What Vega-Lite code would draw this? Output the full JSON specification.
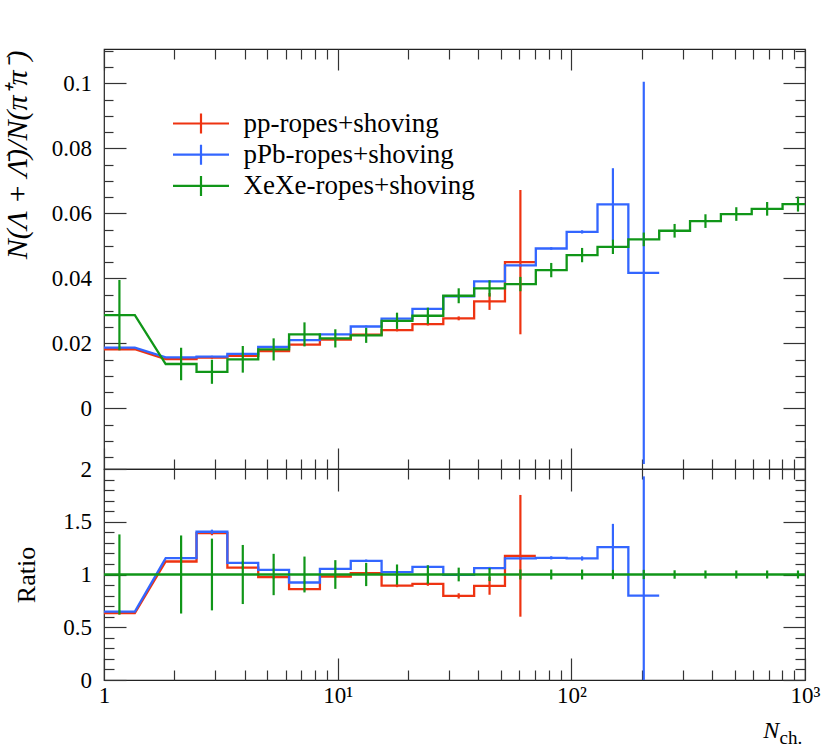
{
  "$schema": "https://vega.github.io/schema/vega-lite/v6.json",
  "padding": {"left": 1, "top": 39, "right": 0, "bottom": 0},
  "spacing": 0,
  "bounds": "flush",
  "config": {
    "font": "Liberation Serif",
    "view": {"stroke": "#222", "strokeWidth": 1.2},
    "axis": {"domain": false, "grid": false, "tickColor": "#333", "tickWidth": 1.2, "labelFont": "Liberation Serif", "labelFontSize": 23, "labelColor": "#000", "titleFont": "Liberation Serif", "titleColor": "#000", "titleFontWeight": "normal", "labelOverlap": false, "labelFlush": false, "labelBound": false}
  },
  "datasets": {
    "d": [
      {"s": "pp-ropes+shoving", "b": 1, "x1": 1, "x2": 1.3552, "xc": 1.164, "y": 0.0182, "ylo": 0.0179, "yhi": 0.0185, "r": 0.633, "rlo": 0.623, "rhi": 0.643},
      {"s": "pp-ropes+shoving", "b": 2, "x1": 1.8365, "x2": 2.4889, "xc": 2.138, "y": 0.0152, "ylo": 0.0149, "yhi": 0.0155, "r": 1.123, "rlo": 1.108, "rhi": 1.138},
      {"s": "pp-ropes+shoving", "b": 3, "x1": 2.4889, "x2": 3.3729, "xc": 2.897, "y": 0.0156, "ylo": 0.0153, "yhi": 0.0159, "r": 1.392, "rlo": 1.372, "rhi": 1.412},
      {"s": "pp-ropes+shoving", "b": 4, "x1": 3.3729, "x2": 4.5709, "xc": 3.926, "y": 0.0162, "ylo": 0.0159, "yhi": 0.0165, "r": 1.066, "rlo": 1.051, "rhi": 1.081},
      {"s": "pp-ropes+shoving", "b": 5, "x1": 4.5709, "x2": 6.1944, "xc": 5.321, "y": 0.0176, "ylo": 0.0173, "yhi": 0.0179, "r": 0.975, "rlo": 0.963, "rhi": 0.987},
      {"s": "pp-ropes+shoving", "b": 6, "x1": 6.1944, "x2": 8.3946, "xc": 7.211, "y": 0.0196, "ylo": 0.0193, "yhi": 0.0199, "r": 0.861, "rlo": 0.849, "rhi": 0.873},
      {"s": "pp-ropes+shoving", "b": 7, "x1": 8.3946, "x2": 11.376, "xc": 9.772, "y": 0.0212, "ylo": 0.0209, "yhi": 0.0215, "r": 0.981, "rlo": 0.969, "rhi": 0.993},
      {"s": "pp-ropes+shoving", "b": 8, "x1": 11.376, "x2": 15.417, "xc": 13.243, "y": 0.0227, "ylo": 0.0224, "yhi": 0.023, "r": 1.013, "rlo": 1.001, "rhi": 1.025},
      {"s": "pp-ropes+shoving", "b": 9, "x1": 15.417, "x2": 20.893, "xc": 17.947, "y": 0.0241, "ylo": 0.0237, "yhi": 0.0245, "r": 0.895, "rlo": 0.88, "rhi": 0.91},
      {"s": "pp-ropes+shoving", "b": 10, "x1": 20.893, "x2": 28.314, "xc": 24.322, "y": 0.0259, "ylo": 0.0255, "yhi": 0.0263, "r": 0.911, "rlo": 0.893, "rhi": 0.929},
      {"s": "pp-ropes+shoving", "b": 11, "x1": 28.314, "x2": 38.371, "xc": 32.96, "y": 0.0277, "ylo": 0.0271, "yhi": 0.0283, "r": 0.797, "rlo": 0.772, "rhi": 0.822},
      {"s": "pp-ropes+shoving", "b": 12, "x1": 38.371, "x2": 52.0, "xc": 44.668, "y": 0.0329, "ylo": 0.0303, "yhi": 0.0355, "r": 0.892, "rlo": 0.808, "rhi": 0.976},
      {"s": "pp-ropes+shoving", "b": 13, "x1": 52.0, "x2": 70.469, "xc": 60.53, "y": 0.045, "ylo": 0.0228, "yhi": 0.0672, "r": 1.177, "rlo": 0.6, "rhi": 1.754},
      {"s": "pPb-ropes+shoving", "b": 1, "x1": 1, "x2": 1.3552, "xc": 1.164, "y": 0.0187, "ylo": 0.0184, "yhi": 0.019, "r": 0.648, "rlo": 0.638, "rhi": 0.658},
      {"s": "pPb-ropes+shoving", "b": 2, "x1": 1.8365, "x2": 2.4889, "xc": 2.138, "y": 0.0157, "ylo": 0.0154, "yhi": 0.016, "r": 1.155, "rlo": 1.14, "rhi": 1.17},
      {"s": "pPb-ropes+shoving", "b": 3, "x1": 2.4889, "x2": 3.3729, "xc": 2.897, "y": 0.0159, "ylo": 0.0156, "yhi": 0.0162, "r": 1.405, "rlo": 1.385, "rhi": 1.425},
      {"s": "pPb-ropes+shoving", "b": 4, "x1": 3.3729, "x2": 4.5709, "xc": 3.926, "y": 0.0168, "ylo": 0.0165, "yhi": 0.0171, "r": 1.11, "rlo": 1.095, "rhi": 1.125},
      {"s": "pPb-ropes+shoving", "b": 5, "x1": 4.5709, "x2": 6.1944, "xc": 5.321, "y": 0.0189, "ylo": 0.0186, "yhi": 0.0192, "r": 1.044, "rlo": 1.032, "rhi": 1.056},
      {"s": "pPb-ropes+shoving", "b": 6, "x1": 6.1944, "x2": 8.3946, "xc": 7.211, "y": 0.021, "ylo": 0.0207, "yhi": 0.0213, "r": 0.924, "rlo": 0.912, "rhi": 0.936},
      {"s": "pPb-ropes+shoving", "b": 7, "x1": 8.3946, "x2": 11.376, "xc": 9.772, "y": 0.0228, "ylo": 0.0225, "yhi": 0.0231, "r": 1.054, "rlo": 1.042, "rhi": 1.066},
      {"s": "pPb-ropes+shoving", "b": 8, "x1": 11.376, "x2": 15.417, "xc": 13.243, "y": 0.0252, "ylo": 0.0249, "yhi": 0.0255, "r": 1.13, "rlo": 1.118, "rhi": 1.142},
      {"s": "pPb-ropes+shoving", "b": 9, "x1": 15.417, "x2": 20.893, "xc": 17.947, "y": 0.0276, "ylo": 0.0273, "yhi": 0.0279, "r": 1.022, "rlo": 1.01, "rhi": 1.034},
      {"s": "pPb-ropes+shoving", "b": 10, "x1": 20.893, "x2": 28.314, "xc": 24.322, "y": 0.0306, "ylo": 0.0303, "yhi": 0.0309, "r": 1.073, "rlo": 1.061, "rhi": 1.085},
      {"s": "pPb-ropes+shoving", "b": 11, "x1": 28.314, "x2": 38.371, "xc": 32.96, "y": 0.0345, "ylo": 0.0342, "yhi": 0.0348, "r": 0.997, "rlo": 0.985, "rhi": 1.009},
      {"s": "pPb-ropes+shoving", "b": 12, "x1": 38.371, "x2": 52.0, "xc": 44.668, "y": 0.0391, "ylo": 0.0388, "yhi": 0.0394, "r": 1.06, "rlo": 1.048, "rhi": 1.072},
      {"s": "pPb-ropes+shoving", "b": 13, "x1": 52.0, "x2": 70.469, "xc": 60.53, "y": 0.044, "ylo": 0.0436, "yhi": 0.0444, "r": 1.152, "rlo": 1.14, "rhi": 1.164},
      {"s": "pPb-ropes+shoving", "b": 14, "x1": 70.469, "x2": 95.499, "xc": 82.03, "y": 0.0492, "ylo": 0.0488, "yhi": 0.0496, "r": 1.158, "rlo": 1.143, "rhi": 1.173},
      {"s": "pPb-ropes+shoving", "b": 15, "x1": 95.499, "x2": 129.42, "xc": 111.17, "y": 0.0543, "ylo": 0.0538, "yhi": 0.0548, "r": 1.152, "rlo": 1.132, "rhi": 1.172},
      {"s": "pPb-ropes+shoving", "b": 16, "x1": 129.42, "x2": 175.39, "xc": 150.66, "y": 0.0628, "ylo": 0.0517, "yhi": 0.0739, "r": 1.26, "rlo": 1.04, "rhi": 1.48},
      {"s": "pPb-ropes+shoving", "b": 17, "x1": 175.39, "x2": 237.68, "xc": 204.17, "y": 0.0417, "ylo": -0.0171, "yhi": 0.1005, "r": 0.8, "rlo": -0.33, "rhi": 1.93},
      {"s": "XeXe-ropes+shoving", "b": 1, "x1": 1, "x2": 1.3552, "xc": 1.164, "y": 0.0287, "ylo": 0.0179, "yhi": 0.0395, "r": 1, "rlo": 0.62, "rhi": 1.38},
      {"s": "XeXe-ropes+shoving", "b": 2, "x1": 1.8365, "x2": 2.4889, "xc": 2.138, "y": 0.01366, "ylo": 0.00866, "yhi": 0.01866, "r": 1, "rlo": 0.63, "rhi": 1.37},
      {"s": "XeXe-ropes+shoving", "b": 3, "x1": 2.4889, "x2": 3.3729, "xc": 2.897, "y": 0.01126, "ylo": 0.00756, "yhi": 0.01496, "r": 1, "rlo": 0.66, "rhi": 1.34},
      {"s": "XeXe-ropes+shoving", "b": 4, "x1": 3.3729, "x2": 4.5709, "xc": 3.926, "y": 0.0151, "ylo": 0.011, "yhi": 0.0192, "r": 1, "rlo": 0.72, "rhi": 1.28},
      {"s": "XeXe-ropes+shoving", "b": 5, "x1": 4.5709, "x2": 6.1944, "xc": 5.321, "y": 0.01815, "ylo": 0.01475, "yhi": 0.02155, "r": 1, "rlo": 0.804, "rhi": 1.196},
      {"s": "XeXe-ropes+shoving", "b": 6, "x1": 6.1944, "x2": 8.3946, "xc": 7.211, "y": 0.02277, "ylo": 0.01907, "yhi": 0.02647, "r": 1, "rlo": 0.83, "rhi": 1.17},
      {"s": "XeXe-ropes+shoving", "b": 7, "x1": 8.3946, "x2": 11.376, "xc": 9.772, "y": 0.02154, "ylo": 0.01874, "yhi": 0.02434, "r": 1, "rlo": 0.864, "rhi": 1.136},
      {"s": "XeXe-ropes+shoving", "b": 8, "x1": 11.376, "x2": 15.417, "xc": 13.243, "y": 0.02246, "ylo": 0.02016, "yhi": 0.02476, "r": 1, "rlo": 0.89, "rhi": 1.11},
      {"s": "XeXe-ropes+shoving", "b": 9, "x1": 15.417, "x2": 20.893, "xc": 17.947, "y": 0.02695, "ylo": 0.02445, "yhi": 0.02945, "r": 1, "rlo": 0.905, "rhi": 1.095},
      {"s": "XeXe-ropes+shoving", "b": 10, "x1": 20.893, "x2": 28.314, "xc": 24.322, "y": 0.0285, "ylo": 0.026, "yhi": 0.031, "r": 1, "rlo": 0.913, "rhi": 1.087},
      {"s": "XeXe-ropes+shoving", "b": 11, "x1": 28.314, "x2": 38.371, "xc": 32.96, "y": 0.03465, "ylo": 0.03235, "yhi": 0.03695, "r": 1, "rlo": 0.935, "rhi": 1.065},
      {"s": "XeXe-ropes+shoving", "b": 12, "x1": 38.371, "x2": 52.0, "xc": 44.668, "y": 0.0369, "ylo": 0.0344, "yhi": 0.0394, "r": 1, "rlo": 0.938, "rhi": 1.062},
      {"s": "XeXe-ropes+shoving", "b": 13, "x1": 52.0, "x2": 70.469, "xc": 60.53, "y": 0.03825, "ylo": 0.03605, "yhi": 0.04045, "r": 1, "rlo": 0.953, "rhi": 1.047},
      {"s": "XeXe-ropes+shoving", "b": 14, "x1": 70.469, "x2": 95.499, "xc": 82.03, "y": 0.04255, "ylo": 0.04035, "yhi": 0.04475, "r": 1, "rlo": 0.953, "rhi": 1.047},
      {"s": "XeXe-ropes+shoving", "b": 15, "x1": 95.499, "x2": 129.42, "xc": 111.17, "y": 0.04717, "ylo": 0.04497, "yhi": 0.04937, "r": 1, "rlo": 0.953, "rhi": 1.047},
      {"s": "XeXe-ropes+shoving", "b": 16, "x1": 129.42, "x2": 175.39, "xc": 150.66, "y": 0.0497, "ylo": 0.0475, "yhi": 0.0519, "r": 1, "rlo": 0.956, "rhi": 1.044},
      {"s": "XeXe-ropes+shoving", "b": 17, "x1": 175.39, "x2": 237.68, "xc": 204.17, "y": 0.052, "ylo": 0.0499, "yhi": 0.0541, "r": 1, "rlo": 0.956, "rhi": 1.044},
      {"s": "XeXe-ropes+shoving", "b": 18, "x1": 237.68, "x2": 322.11, "xc": 276.68, "y": 0.05465, "ylo": 0.05255, "yhi": 0.05675, "r": 1, "rlo": 0.96, "rhi": 1.04},
      {"s": "XeXe-ropes+shoving", "b": 19, "x1": 322.11, "x2": 436.52, "xc": 374.97, "y": 0.05763, "ylo": 0.05553, "yhi": 0.05973, "r": 1, "rlo": 0.962, "rhi": 1.038},
      {"s": "XeXe-ropes+shoving", "b": 20, "x1": 436.52, "x2": 591.56, "xc": 508.15, "y": 0.0598, "ylo": 0.0577, "yhi": 0.0619, "r": 1, "rlo": 0.962, "rhi": 1.038},
      {"s": "XeXe-ropes+shoving", "b": 21, "x1": 591.56, "x2": 801.7, "xc": 688.63, "y": 0.0614, "ylo": 0.0593, "yhi": 0.0635, "r": 1, "rlo": 0.962, "rhi": 1.038},
      {"s": "XeXe-ropes+shoving", "b": 22, "x1": 801.7, "x2": 1086.4, "xc": 933.26, "y": 0.06286, "ylo": 0.06056, "yhi": 0.06516, "r": 1, "rlo": 0.962, "rhi": 1.038}
    ]
  },
  "resolve": {"scale": {"x": "independent", "y": "independent"}, "axis": {"x": "independent", "y": "independent"}, "legend": {"color": "independent"}},
  "vconcat": [
    {
      "width": 701,
      "height": 420,
      "resolve": {"axis": {"x": "independent", "y": "independent"}},
      "layer": [
        {
          "data": {"name": "d"},
          "transform": [{"fold": ["x1", "x2"], "as": ["edge", "xe"]}],
          "mark": {"type": "line", "clip": true, "strokeWidth": 2.3},
          "encoding": {
            "x": {"field": "xe", "type": "quantitative", "scale": {"type": "log", "domain": [1, 1000], "nice": false},
              "axis": {"orient": "bottom", "values": [1,2,3,4,5,6,7,8,9,10,20,30,40,50,60,70,80,90,100,200,300,400,500,600,700,800,900,1000], "labels": false, "title": null,
                "tickSize": {"condition": {"test": "datum.value==1||datum.value==10||datum.value==100||datum.value==1000", "value": -21}, "value": -10}}},
            "y": {"field": "y", "type": "quantitative", "scale": {"domain": [-0.01865, 0.11058], "nice": false, "zero": false},
              "axis": {"orient": "left", "values": [-0.015,-0.01,-0.005,0,0.005,0.01,0.015,0.02,0.025,0.03,0.035,0.04,0.045,0.05,0.055,0.06,0.065,0.07,0.075,0.08,0.085,0.09,0.095,0.1,0.105,0.11],
                "tickSize": {"condition": {"test": "datum.value==0||datum.value==0.02||datum.value==0.04||datum.value==0.06||datum.value==0.08||datum.value==0.1", "value": -22}, "value": -9},
                "labelExpr": "datum.value==0?'0':datum.value==0.02?'0.02':datum.value==0.04?'0.04':datum.value==0.06?'0.06':datum.value==0.08?'0.08':datum.value==0.1?'0.1':''",
                "labelPadding": 34.5,
                "title": "N(Λ + Λ̄)/N(π⁺π⁻)", "titleFontSize": 30, "titleFontStyle": "italic", "titleAngle": 270, "titleX": -78, "titleY": 1, "titleAlign": "right", "titleBaseline": "alphabetic"}},
            "color": {"field": "s", "type": "nominal",
              "scale": {"domain": ["pp-ropes+shoving", "pPb-ropes+shoving", "XeXe-ropes+shoving"], "range": ["#EE3311", "#3366FF", "#109618"]},
              "legend": {"orient": "none", "legendX": 70, "legendY": 61, "title": null, "symbolType": "M-2.8,0H2.8M0,-1V1", "symbolSize": 400, "symbolStrokeWidth": 2.2, "symbolOffset": 13.5, "symbolFillColor": "transparent", "labelOffset": 29, "labelFontSize": 27, "labelFont": "Liberation Serif", "labelColor": "#000", "rowPadding": 2.2, "padding": 0, "labelLimit": 0}},
            "order": [{"field": "b", "type": "quantitative"}, {"field": "edge", "type": "ordinal"}]
          }
        },
        {
          "data": {"name": "d"},
          "mark": {"type": "rule", "clip": true, "strokeWidth": 2.2},
          "encoding": {
            "x": {"field": "xc", "type": "quantitative", "scale": {"type": "log", "domain": [1, 1000], "nice": false},
              "axis": {"orient": "top", "values": [1,2,3,4,5,6,7,8,9,10,20,30,40,50,60,70,80,90,100,200,300,400,500,600,700,800,900,1000], "labels": false, "title": null,
                "tickSize": {"condition": {"test": "datum.value==1||datum.value==10||datum.value==100||datum.value==1000", "value": -21}, "value": -10}}},
            "y": {"field": "ylo", "type": "quantitative",
              "axis": {"orient": "right", "values": [-0.015,-0.01,-0.005,0,0.005,0.01,0.015,0.02,0.025,0.03,0.035,0.04,0.045,0.05,0.055,0.06,0.065,0.07,0.075,0.08,0.085,0.09,0.095,0.1,0.105,0.11], "labels": false, "title": null,
                "tickSize": {"condition": {"test": "datum.value==0||datum.value==0.02||datum.value==0.04||datum.value==0.06||datum.value==0.08||datum.value==0.1", "value": -22}, "value": -10}}},
            "y2": {"field": "yhi"},
            "color": {"field": "s", "type": "nominal", "legend": null}
          }
        }
      ]
    },
    {
      "width": 701,
      "height": 211,
      "resolve": {"axis": {"x": "independent", "y": "independent"}},
      "layer": [
        {
          "data": {"name": "d"},
          "transform": [{"fold": ["x1", "x2"], "as": ["edge", "xe"]}],
          "mark": {"type": "line", "clip": true, "strokeWidth": 2.3},
          "encoding": {
            "x": {"field": "xe", "type": "quantitative", "scale": {"type": "log", "domain": [1, 1000], "nice": false},
              "axis": {"orient": "bottom", "values": [1,2,3,4,5,6,7,8,9,10,20,30,40,50,60,70,80,90,100,200,300,400,500,600,700,800,900,1000],
                "tickSize": {"condition": {"test": "datum.value==1||datum.value==10||datum.value==100||datum.value==1000", "value": -22}, "value": -10},
                "labelExpr": "datum.value==1?'1':datum.value==10?'10¹':datum.value==100?'10²':datum.value==1000?'10³':''",
                "labelPadding": 26, "labelBaseline": "top",
                "title": "N", "titleFontSize": 24, "titleFontStyle": "italic", "titleX": 658.7, "titleY": 57, "titleAlign": "left", "titleBaseline": "alphabetic", "titleAngle": 0}},
            "y": {"field": "r", "type": "quantitative", "scale": {"domain": [0, 2], "nice": false, "zero": false},
              "axis": {"orient": "left", "values": [0,0.1,0.2,0.3,0.4,0.5,0.6,0.7,0.8,0.9,1,1.1,1.2,1.3,1.4,1.5,1.6,1.7,1.8,1.9,2],
                "tickSize": {"condition": {"test": "datum.value==0||datum.value==0.5||datum.value==1||datum.value==1.5||datum.value==2", "value": -22}, "value": -10},
                "labelExpr": "datum.value==0?'0':datum.value==0.5?'0.5':datum.value==1?'1':datum.value==1.5?'1.5':datum.value==2?'2':''",
                "labelPadding": 34.5,
                "title": "Ratio", "titleFontSize": 26, "titleAngle": 270, "titleX": -70, "titleY": 105.5, "titleAlign": "center", "titleBaseline": "alphabetic"}},
            "color": {"field": "s", "type": "nominal",
              "scale": {"domain": ["pp-ropes+shoving", "pPb-ropes+shoving", "XeXe-ropes+shoving"], "range": ["#EE3311", "#3366FF", "#109618"]},
              "legend": null},
            "order": [{"field": "b", "type": "quantitative"}, {"field": "edge", "type": "ordinal"}]
          }
        },
        {
          "data": {"name": "d"},
          "mark": {"type": "rule", "clip": true, "strokeWidth": 2.2},
          "encoding": {
            "x": {"field": "xc", "type": "quantitative", "scale": {"type": "log", "domain": [1, 1000], "nice": false},
              "axis": {"orient": "top", "values": [1,2,3,4,5,6,7,8,9,10,20,30,40,50,60,70,80,90,100,200,300,400,500,600,700,800,900,1000], "labels": false,
                "tickSize": {"condition": {"test": "datum.value==1||datum.value==10||datum.value==100||datum.value==1000", "value": -22}, "value": -10},
                "title": "ch.", "titleFontSize": 19, "titleX": 675, "titleY": 274, "titleAlign": "left", "titleBaseline": "alphabetic", "titleAngle": 0}},
            "y": {"field": "rlo", "type": "quantitative",
              "axis": {"orient": "right", "values": [0,0.1,0.2,0.3,0.4,0.5,0.6,0.7,0.8,0.9,1,1.1,1.2,1.3,1.4,1.5,1.6,1.7,1.8,1.9,2], "labels": false, "title": null,
                "tickSize": {"condition": {"test": "datum.value==0||datum.value==0.5||datum.value==1||datum.value==1.5||datum.value==2", "value": -22}, "value": -10}}},
            "y2": {"field": "rhi"},
            "color": {"field": "s", "type": "nominal", "legend": null}
          }
        }
      ]
    }
  ]
}
